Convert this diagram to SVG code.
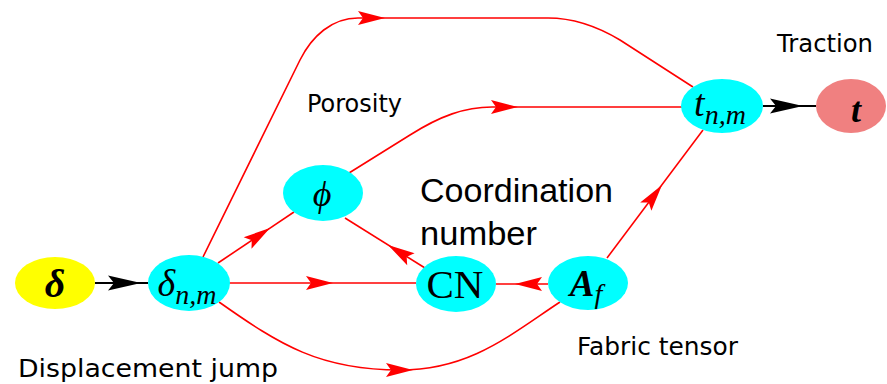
<svg xmlns="http://www.w3.org/2000/svg" xmlns:xlink="http://www.w3.org/1999/xlink" width="887" height="384" viewBox="0 0 887 384">
<style>
.e{fill:none;stroke:#ff0000;stroke-width:1.6}
.k{fill:none;stroke:#000;stroke-width:2}
.cy{fill:#00ffff}
.m{font-family:"Liberation Serif","Times New Roman",serif;font-style:italic;fill:#000}
.lb{font-family:"DejaVu Sans",sans-serif;font-size:24px;fill:#000}
.cn{font-family:"Liberation Sans",Arial,sans-serif;font-size:34px;fill:#000}
</style>
<defs>
<path id="ar" d="M0,0 L-27,-7 L-22,0 L-27,7 Z" fill="#ff0000"/>
<path id="ab" d="M0,0 L-33,-7.5 L-27,0 L-33,7.5 Z" fill="#000"/>
</defs>
<rect width="887" height="384" fill="#fff"/>
<g id="connectors">
<path class="k" d="M95,283 L148,283"/>
<use xlink:href="#ab" transform="translate(141,283)"/>
<path class="k" d="M763,106 L816,106"/>
<use xlink:href="#ab" transform="translate(803,106)"/>
<path class="e" d="M218,263 L294,212"/>
<use xlink:href="#ar" transform="translate(270,228) rotate(-33.9)"/>
<path class="e" d="M229,283 L416,283"/>
<use xlink:href="#ar" transform="translate(333,283)"/>
<path class="e" d="M425,268 L345,218"/>
<use xlink:href="#ar" transform="translate(388,245) rotate(212)"/>
<path class="e" d="M548,284 L496,284"/>
<use xlink:href="#ar" transform="translate(515,284) rotate(180)"/>
<path class="e" d="M607,258 L703,130"/>
<use xlink:href="#ar" transform="translate(662,185) rotate(-53.1)"/>
<path class="e" d="M203,257 L300,60 C312,36 332,18 358,18 L548,18 C575,18 600,28 620,40 L693,87"/>
<use xlink:href="#ar" transform="translate(385,18)"/>
<path class="e" d="M349,173 L410,135 C440,116 465,107 492,107 L682,107"/>
<use xlink:href="#ar" transform="translate(518,107)"/>
<path class="e" d="M219,302 C280,345 320,370 400,370 C470,370 510,335 560,302"/>
<use xlink:href="#ar" transform="translate(413,370)"/>
</g>
<g id="n-delta">
<ellipse cx="55" cy="283" rx="40" ry="26" fill="#ffff00"/>
<text class="m" x="55" y="297" font-size="40" font-weight="bold" text-anchor="middle">δ</text>
</g>
<g id="n-deltanm">
<ellipse class="cy" cx="189" cy="283" rx="41" ry="28"/>
<text class="m" x="187" y="296" font-size="38" text-anchor="middle">δ<tspan font-size="28" dy="8">n,m</tspan></text>
</g>
<g id="n-phi">
<ellipse class="cy" cx="323" cy="193" rx="40" ry="28"/>
<text class="m" x="322" y="206" font-size="36" text-anchor="middle">ϕ</text>
</g>
<g id="n-cn">
<ellipse class="cy" cx="456" cy="284" rx="40" ry="28"/>
<text x="455" y="298" font-family="Liberation Serif,'Times New Roman',serif" font-size="41" text-anchor="middle">CN</text>
</g>
<g id="n-af">
<ellipse class="cy" cx="588" cy="283" rx="40" ry="27"/>
<text class="m" x="586" y="296" font-size="37" font-weight="bold" text-anchor="middle">A<tspan font-size="28" font-weight="normal" dy="7">f</tspan></text>
</g>
<g id="n-tnm">
<ellipse class="cy" cx="722" cy="106" rx="41" ry="27"/>
<text class="m" x="720" y="116" font-size="38" text-anchor="middle">t<tspan font-size="28" dy="8">n,m</tspan></text>
</g>
<g id="n-t">
<ellipse cx="851" cy="106" rx="35" ry="27" fill="#f08080"/>
<text class="m" x="856" y="122" font-size="36" font-weight="bold" text-anchor="middle">t</text>
</g>
<g id="labels">
<text class="lb" x="777" y="52" textLength="96" lengthAdjust="spacingAndGlyphs">Traction</text>
<text class="lb" x="307" y="112" textLength="95" lengthAdjust="spacingAndGlyphs">Porosity</text>
<text class="cn" x="420" y="202" textLength="193" lengthAdjust="spacingAndGlyphs">Coordination</text>
<text class="cn" x="420" y="245" textLength="117" lengthAdjust="spacingAndGlyphs">number</text>
<text class="lb" x="577" y="355" textLength="161" lengthAdjust="spacingAndGlyphs">Fabric tensor</text>
<text class="lb" x="18" y="377" textLength="260" lengthAdjust="spacingAndGlyphs">Displacement jump</text>
</g>
</svg>
